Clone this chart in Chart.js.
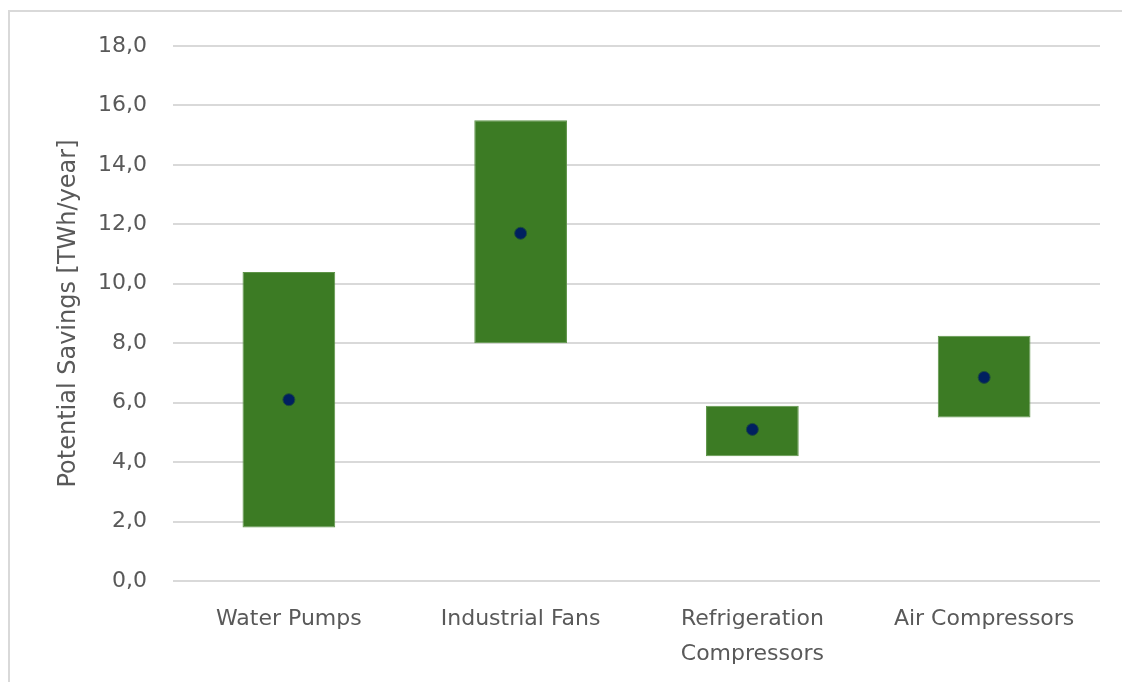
<!DOCTYPE html>
<html>
<head>
<meta charset="utf-8">
<title>Potential Savings</title>
<script src="https://cdn.jsdelivr.net/npm/chart.js@4"></script>
<style>
  html, body { margin: 0; padding: 0; background: #fff; }
  #wrap { position: relative; width: 1122px; height: 682px; }
  #frame {
    position: absolute; left: 8px; top: 10px; width: 1120px; height: 680px;
    border: 2px solid #d9d9d9; box-sizing: border-box; pointer-events: none;
  }
</style>
</head>
<body>
<div id="wrap">
  <canvas id="myChart" width="1122" height="682"></canvas>
  <div id="frame"></div>
</div>
<script>
// savings ranges per machine type, TWh/year
const categories = ['Water Pumps', 'Industrial Fans', ['Refrigeration', 'Compressors'], 'Air Compressors'];
const lowValues = [1.8, 8.0, 4.2, 5.5];
const highValues = [10.4, 15.5, 5.9, 8.25];
const midValues = [6.1, 11.7, 5.1, 6.85];
const yTicks = [0, 2, 4, 6, 8, 10, 12, 14, 16, 18];

const textColor = '#595959';
const fontFamily = '"DejaVu Sans", sans-serif';

const ctx = document.getElementById('myChart').getContext('2d');
const chart = new Chart(ctx, {
  type: 'bar',
  data: {
    labels: categories,
    datasets: [
      {
        type: 'line',
        label: 'Mid estimate',
        data: midValues,
        showLine: false,
        pointRadius: 6,
        pointHoverRadius: 6,
        pointBackgroundColor: '#002060',
        pointBorderColor: '#1f4e3a',
        pointBorderWidth: 1
      },
      {
        label: 'Range',
        data: lowValues.map((lo, i) => [lo, highValues[i]]),
        backgroundColor: '#3c7b24',
        borderColor: '#5f9549',
        borderWidth: 1,
        borderSkipped: false,
        categoryPercentage: 1.0,
        barPercentage: 0.4
      }
    ]
  },
  options: {
    responsive: false,
    animation: false,
    layout: { padding: { top: 46, right: 22, left: 0, bottom: 0 } },
    plugins: {
      legend: { display: false },
      tooltip: { enabled: false }
    },
    scales: {
      x: {
        grid: { display: false },
        border: { display: false },
        ticks: {
          color: textColor,
          font: { family: fontFamily, size: 22, lineHeight: 1.58 },
          padding: 13,
          maxRotation: 0
        },
        afterFit: scale => { scale.height = 101; }
      },
      y: {
        min: 0,
        max: 18,
        afterBuildTicks: scale => { scale.ticks = yTicks.map(v => ({ value: v })); },
        grid: { color: '#d9d9d9', lineWidth: 2, drawTicks: false },
        border: { display: false },
        ticks: {
          color: textColor,
          font: { family: fontFamily, size: 22 },
          padding: 26,
          callback: v => v.toFixed(1).replace('.', ',')
        },
        title: {
          display: true,
          text: 'Potential Savings [TWh/year]',
          color: textColor,
          font: { family: fontFamily, size: 24 },
          padding: { top: 54, bottom: 0 }
        },
        afterFit: scale => { scale.width = 173; }
      }
    }
  }
});
</script>
</body>
</html>
